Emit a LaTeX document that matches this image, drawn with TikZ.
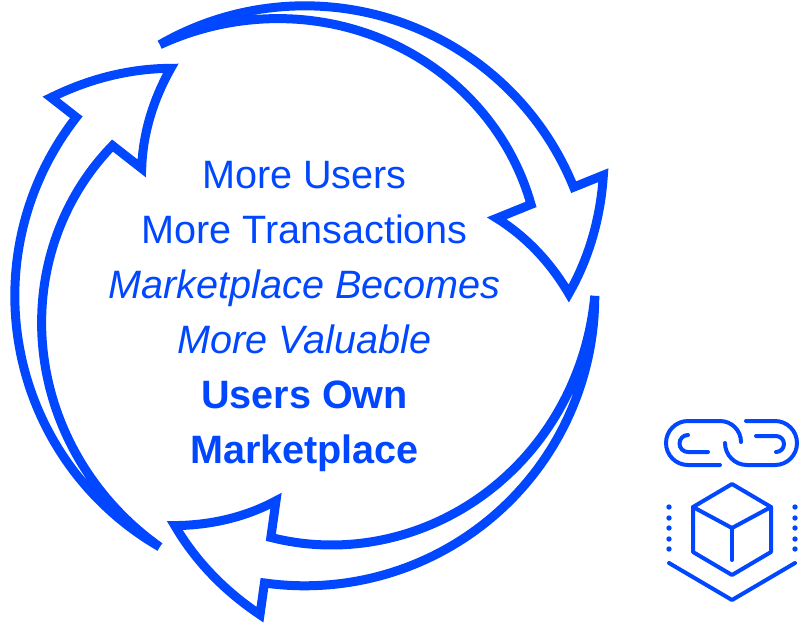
\documentclass[tikz,border=0pt]{standalone}
\usepackage{fontspec}
\setmainfont{Liberation Sans}
\definecolor{cyc}{HTML}{0047FF}
\tikzset{
  cyclearrow/.style={draw=cyc,line width=9pt,miter limit=14,line join=miter},
  iconline/.style={draw=cyc,line width=4pt,line cap=round,line join=round},
  icondot/.style={fill=cyc,draw=none},
  cycletext/.style={text=cyc,anchor=base,inner sep=0pt,font=\fontsize{39.6}{39.6}\selectfont}
}
\begin{document}
\begin{tikzpicture}[x=1pt,y=-1pt]
\useasboundingbox (0,0) rectangle (800,622);
% three arrows, one shape turned about the centre (304.8,295.8)
\foreach \rot in {0,-120,120} {
\draw[cyclearrow]
  plot[variable=\t,domain=120:22,samples=70] ({304.8+290*cos(\t+\rot)},{295.8-290*sin(\t+\rot)})
  -- plot[variable=\t,domain=22:0.5,samples=20] ({304.8+(264+(\t-0.5)*58/21.5)*cos(\t+\rot)},{295.8-(264+(\t-0.5)*58/21.5)*sin(\t+\rot)})
  -- plot[variable=\t,domain=1.5:22,samples=20] ({304.8+(264-(\t-0.5)*57/21.5)*cos(\t+\rot)},{295.8-(264-(\t-0.5)*57/21.5)*sin(\t+\rot)})
  -- plot[variable=\t,domain=22:120,samples=70] ({304.8+(244+(\t-22)*46/98)*cos(\t+\rot)},{295.8-(244+(\t-22)*46/98)*sin(\t+\rot)});
}
% text
\node[cycletext] (l1) at (304.5,188) {More Users};
\node[cycletext] (l2) at (304.5,243) {More Transactions};
\node[cycletext] (l3) at (304.5,298) {\itshape Marketplace Becomes};
\node[cycletext] (l4) at (304.5,353) {\itshape More Valuable};
\node[cycletext] (l5) at (304.5,408) {\bfseries Users Own};
\node[cycletext] (l6) at (304.5,463) {\bfseries Marketplace};
% chain icon
\draw[iconline] (720,465) -- (688,465) arc[start angle=90,end angle=270,radius=22] -- (720,421) arc[start angle=-90,end angle=0,radius=21] ;
\draw[iconline] (708,452) -- (688,452) arc[start angle=90,end angle=270,radius=8.5] ;
\draw[iconline] (746,421) -- (775,421) arc[start angle=-90,end angle=90,radius=22] -- (747,465) arc[start angle=90,end angle=180,radius=22];
\draw[iconline] (756,436) -- (776,436) arc[start angle=-90,end angle=90,radius=8];
% cube icon
\draw[iconline] (732,484) -- (771,507) -- (771,552) -- (732,575) -- (693,552) -- (693,507) -- cycle;
\draw[iconline] (693,507) -- (732,528) -- (771,507);
\draw[iconline] (732,528) -- (732,560);
\draw[iconline] (669,563) -- (732,600) -- (795,563);
\foreach \yy in {507,518,528,539,549} {
  \fill[icondot] (669,\yy) circle (2.7);
  \fill[icondot] (795,\yy) circle (2.7);
}
\end{tikzpicture}
\end{document}
